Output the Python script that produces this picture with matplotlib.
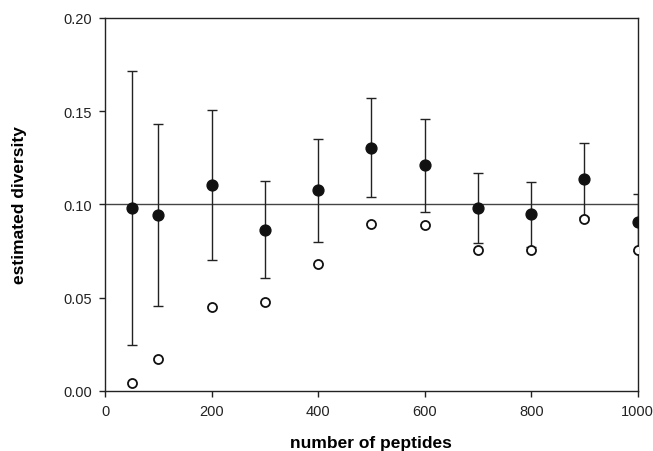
import numpy as np
import matplotlib.pyplot as plt

plt.rcParams['font.family'] = ['Liberation Sans', 'DejaVu Sans']

# data
peptides = [50, 100, 200, 300, 400, 500, 600, 700, 800, 900, 1000]
est_mean = [0.098, 0.0944, 0.1103, 0.0865, 0.1078, 0.1303, 0.1212, 0.098, 0.0947, 0.1135, 0.0906]
err_upper = [0.1715, 0.143, 0.1505, 0.1123, 0.135, 0.157, 0.146, 0.1169, 0.112, 0.1328, 0.1053]
err_lower = [0.0247, 0.0454, 0.070, 0.0606, 0.080, 0.1037, 0.0957, 0.079, 0.077, 0.093, 0.075]
single_est = [0.004, 0.017, 0.0447, 0.0477, 0.068, 0.0896, 0.0887, 0.0755, 0.0755, 0.0922, 0.0755]
true_value = 0.10

x = np.array(peptides)
m = np.array(est_mean)
yerr = [m - np.array(err_lower), np.array(err_upper) - m]

fig = plt.figure(figsize=(6.53, 4.52), dpi=100)
ax = fig.add_axes([0.161, 0.1334, 0.8156, 0.8246])

ax.plot([0, 1000], [true_value, true_value], color="#444444", lw=1.0, zorder=1)

ax.errorbar(x, m, yerr=yerr, fmt="none", ecolor="#222222", elinewidth=1.0,
            capsize=3.5, capthick=1.0, zorder=2)
ax.plot(x, m, "o", color="#111111", ms=7.8, zorder=3)
ax.plot(x, single_est, "o", mfc="white", mec="#111111", mew=1.3, ms=6.5, zorder=4)

ax.set_xlim(0, 1000)
ax.set_ylim(0, 0.20)
ax.set_xticks([0, 200, 400, 600, 800, 1000])
ax.set_yticks([0.00, 0.05, 0.10, 0.15, 0.20])
ax.set_yticklabels(["0.00", "0.05", "0.10", "0.15", "0.20"])
ax.tick_params(direction="out", length=4.5, width=1, labelsize=10.5, colors="#222222")
ax.tick_params(axis="x", pad=5)
ax.tick_params(axis="y", pad=5)

for s in ax.spines.values():
    s.set_linewidth(1.0)
    s.set_color("#222222")

ax.set_xlabel("number of peptides", fontsize=12.5, fontweight="bold", labelpad=12)
ax.set_ylabel("estimated diversity", fontsize=12.5, fontweight="bold", labelpad=26)

fig.savefig("out.png", dpi=100)
